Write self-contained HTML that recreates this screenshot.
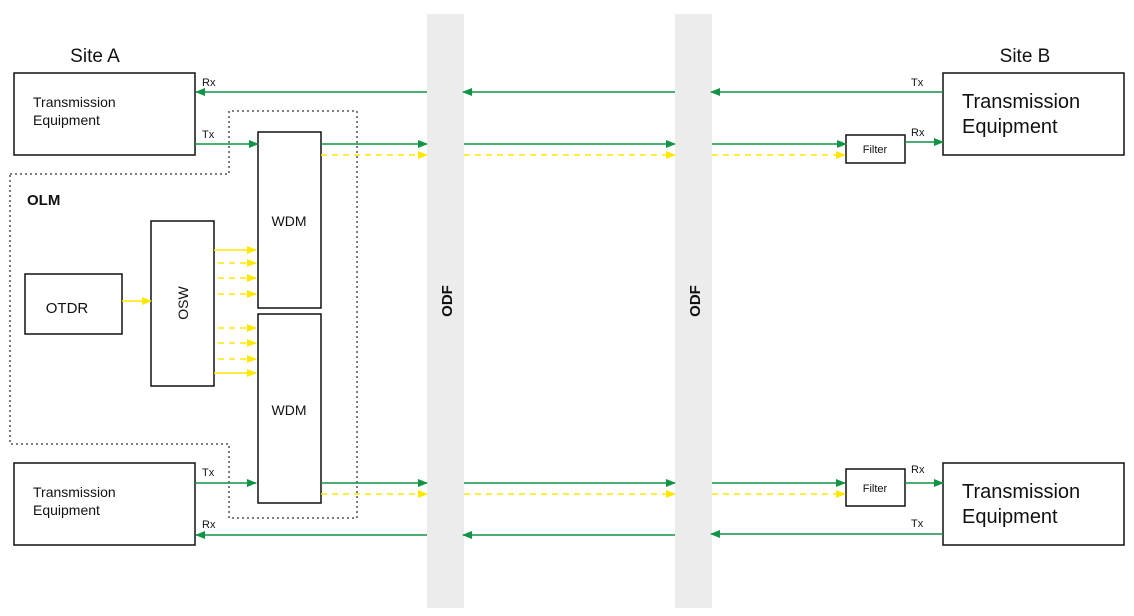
<!DOCTYPE html>
<html><head><meta charset="utf-8"><style>
html,body{margin:0;padding:0;background:#fff;}
svg{display:block;font-family:"Liberation Sans",Arial,sans-serif;}
</style></head><body>
<svg width="1134" height="616" viewBox="0 0 1134 616" xmlns="http://www.w3.org/2000/svg">
<defs>
<marker id="g" markerWidth="10" markerHeight="8" refX="9" refY="4" orient="auto" markerUnits="userSpaceOnUse"><path d="M0,0 L10,4 L0,8 Z" fill="#129447"/></marker>
<marker id="y" markerWidth="10" markerHeight="8" refX="9" refY="4" orient="auto" markerUnits="userSpaceOnUse"><path d="M0,0 L10,4 L0,8 Z" fill="#ffe800"/></marker>
</defs>
<rect width="1134" height="616" fill="#fff"/>
<!-- ODF bars -->
<rect x="427" y="14" width="37" height="594" fill="#ececec"/>
<rect x="675" y="14" width="37" height="594" fill="#ececec"/>
<text transform="translate(452,301) rotate(-90)" text-anchor="middle" font-size="15" font-weight="bold" fill="#111">ODF</text>
<text transform="translate(700,301) rotate(-90)" text-anchor="middle" font-size="15" font-weight="bold" fill="#111">ODF</text>

<!-- dotted OLM outline -->
<path d="M10,174 H229 V111 H357 V518 H229 V444 H10 Z" fill="none" stroke="#333" stroke-width="1.3" stroke-dasharray="2,3"/>

<g fill="none" stroke="#111" stroke-width="1.5">
<rect x="14" y="73" width="181" height="82"/>
<rect x="14" y="463" width="181" height="82"/>
<rect x="943" y="73" width="181" height="82"/>
<rect x="943" y="463" width="181" height="82"/>
<rect x="258" y="132" width="63" height="176"/>
<rect x="258" y="314" width="63" height="189"/>
<rect x="151" y="221" width="63" height="165"/>
<rect x="25" y="274" width="97" height="60"/>
<rect x="846" y="135" width="59" height="28"/>
<rect x="846" y="469" width="59" height="37"/>
</g>

<g fill="#111">
<text x="95" y="62" font-size="19" text-anchor="middle">Site A</text>
<text x="1025" y="62" font-size="19" text-anchor="middle">Site B</text>
<text x="33" y="107" font-size="14">Transmission</text>
<text x="33" y="125" font-size="14">Equipment</text>
<text x="33" y="497" font-size="14">Transmission</text>
<text x="33" y="515" font-size="14">Equipment</text>
<text x="962" y="108" font-size="20">Transmission</text>
<text x="962" y="133" font-size="20">Equipment</text>
<text x="962" y="498" font-size="20">Transmission</text>
<text x="962" y="523" font-size="20">Equipment</text>
<text x="289" y="226" font-size="14" text-anchor="middle">WDM</text>
<text x="289" y="415" font-size="14" text-anchor="middle">WDM</text>
<text x="67" y="313" font-size="15" text-anchor="middle">OTDR</text>
<text transform="translate(188,303) rotate(-90)" font-size="14" text-anchor="middle">OSW</text>
<text x="27" y="205" font-size="15" font-weight="bold">OLM</text>
<text x="875" y="153" font-size="11" text-anchor="middle">Filter</text>
<text x="875" y="492" font-size="11" text-anchor="middle">Filter</text>
<text x="202" y="86" font-size="11">Rx</text>
<text x="202" y="138" font-size="11">Tx</text>
<text x="202" y="476" font-size="11">Tx</text>
<text x="202" y="528" font-size="11">Rx</text>
<text x="911" y="86" font-size="11">Tx</text>
<text x="911" y="136" font-size="11">Rx</text>
<text x="911" y="473" font-size="11">Rx</text>
<text x="911" y="527" font-size="11">Tx</text>
</g>

<g stroke="#129447" stroke-width="1.5" fill="none" marker-end="url(#g)">
<line x1="427" y1="92" x2="196" y2="92"/>
<line x1="675" y1="92" x2="463" y2="92"/>
<line x1="943" y1="92" x2="711" y2="92"/>
<line x1="195" y1="144" x2="258" y2="144"/>
<line x1="321" y1="144" x2="427" y2="144"/>
<line x1="464" y1="144" x2="675" y2="144"/>
<line x1="712" y1="144" x2="846" y2="144"/>
<line x1="905" y1="142" x2="943" y2="142"/>
<line x1="195" y1="483" x2="256" y2="483"/>
<line x1="321" y1="483" x2="427" y2="483"/>
<line x1="464" y1="483" x2="675" y2="483"/>
<line x1="712" y1="483" x2="845" y2="483"/>
<line x1="905" y1="483" x2="943" y2="483"/>
<line x1="427" y1="535" x2="196" y2="535"/>
<line x1="675" y1="535" x2="463" y2="535"/>
<line x1="943" y1="534" x2="711" y2="534"/>
</g>

<g stroke="#ffe800" stroke-width="1.5" fill="none" marker-end="url(#y)">
<line x1="122" y1="301" x2="151" y2="301"/>
<line x1="214" y1="250" x2="256" y2="250"/>
<line x1="214" y1="373" x2="256" y2="373"/>
</g>
<g stroke="#ffe800" stroke-width="1.5" fill="none" stroke-dasharray="6,5" marker-end="url(#y)">
<line x1="218" y1="263" x2="256" y2="263"/>
<line x1="218" y1="278" x2="256" y2="278"/>
<line x1="218" y1="294" x2="256" y2="294"/>
<line x1="218" y1="328" x2="256" y2="328"/>
<line x1="218" y1="343" x2="256" y2="343"/>
<line x1="218" y1="359" x2="256" y2="359"/>
<line x1="321" y1="155" x2="427" y2="155"/>
<line x1="464" y1="155" x2="675" y2="155"/>
<line x1="712" y1="155" x2="845" y2="155"/>
<line x1="321" y1="494" x2="427" y2="494"/>
<line x1="464" y1="494" x2="675" y2="494"/>
<line x1="712" y1="494" x2="845" y2="494"/>
</g>
</svg>
</body></html>
